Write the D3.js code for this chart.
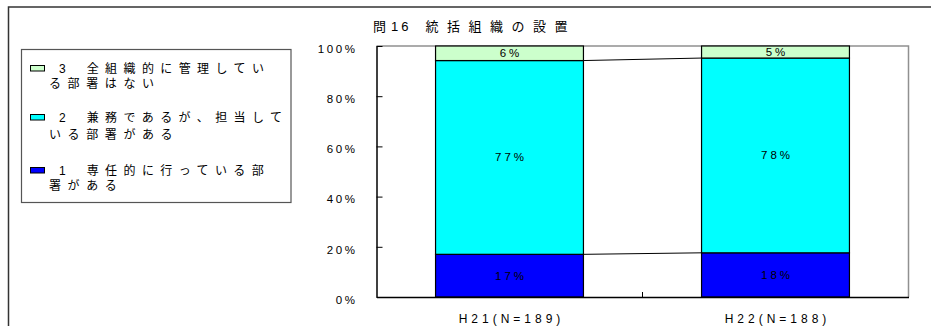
<!DOCTYPE html>
<html><head><meta charset="utf-8">
<script src="https://cdn.jsdelivr.net/npm/d3@7"></script>
<style>
body{margin:0;background:#fff;}
svg{display:block;font-family:Arial,"Liberation Sans","Noto Sans CJK JP",sans-serif;}
</style></head>
<body><svg id="c" width="931" height="326"></svg>
<script>
const categories = ["H21(N=189)", "H22(N=188)"];
const seriesNames = ["1　専任的に行っている部署がある", "2　兼務であるが、担当している部署がある", "3　全組織的に管理している部署はない"];
const legendLines = [["1　専任的に行っている部", "署がある"], ["2　兼務であるが、担当して", "いる部署がある"], ["3　全組織的に管理してい", "る部署はない"]];
const series1 = [17.0, 17.6];   // 専任的に行っている部署がある
const series2 = [77.2, 77.6];   // 兼務であるが、担当している部署がある
const series3 = [5.8, 4.8];     // 全組織的に管理している部署はない
const yTicks = [0, 20, 40, 60, 80, 100];
const colors = ["#0000FF", "#00FFFF", "#CCFFCC"];
const title = ["問", "16", "統括組織の設置"];

const svg = d3.select("#c");
// outer frame
svg.append("rect").attr("x", 8.5).attr("y", 7).attr("width", 940).attr("height", 340)
  .attr("fill", "none").attr("stroke", "#333").attr("stroke-width", 1.5);

const x = d3.scaleBand().domain(categories).range([376.5, 908.5]).paddingInner(0.444).paddingOuter(0.222);
const y = d3.scaleLinear().domain([0, 100]).range([297, 46]);

const stackData = categories.map((c, i) => ({cat: c, s0: series1[i], s1: series2[i], s2: series3[i]}));
const stack = d3.stack().keys(["s0", "s1", "s2"])(stackData);

// plot frame top/right (gray)
svg.append("path").attr("d", `M${x.range()[0]},${y(100)}H${x.range()[1]}V${y(0)}`)
  .attr("fill", "none").attr("stroke", "#909090").attr("stroke-width", 1.5);

// series connecting lines
stack.slice(0, 2).forEach(layer => {
  const a = layer[0], b = layer[1];
  svg.append("line")
    .attr("x1", x(categories[0]) + x.bandwidth()).attr("y1", y(a[1]))
    .attr("x2", x(categories[1])).attr("y2", y(b[1]))
    .attr("stroke", "#000").attr("stroke-width", 1);
});

// bars
stack.forEach((layer, k) => {
  svg.append("g").selectAll("rect").data(layer).join("rect")
    .attr("x", d => x(d.data.cat)).attr("width", x.bandwidth())
    .attr("y", d => y(d[1])).attr("height", d => y(d[0]) - y(d[1]))
    .attr("fill", colors[k]).attr("stroke", "#000").attr("stroke-width", 1.2);
  svg.append("g").selectAll("text").data(layer).join("text")
    .attr("x", d => x(d.data.cat) + x.bandwidth() / 2 + 1.5)
    .attr("y", d => (y(d[0]) + y(d[1])) / 2).attr("dy", "0.35em")
    .attr("text-anchor", "middle").attr("font-size", 11.5).attr("letter-spacing", 3)
    .attr("fill", "#000")
    .text(d => Math.round(d[1] - d[0]) + "%");
});

// y axis
const yAxis = d3.axisLeft(y).tickValues(yTicks).tickSizeInner(-6).tickSizeOuter(0).tickPadding(19).tickFormat(d => d + "%");
const gy = svg.append("g").attr("transform", "translate(376.5,0)").call(yAxis);
gy.select(".domain").attr("stroke", "#000").attr("stroke-width", 1.5);
gy.selectAll(".tick line").attr("stroke", "#000");
gy.selectAll(".tick text").attr("font-size", 11.5).attr("letter-spacing", 2.6).attr("fill", "#000")
  .attr("font-family", "Arial,'Liberation Sans',sans-serif").attr("dy", "0.55em");

// x axis
const gx = svg.append("g").attr("transform", "translate(0,297)")
  .call(d3.axisBottom(x).tickSize(0).tickPadding(17));
gx.select(".domain").attr("stroke", "#000").attr("stroke-width", 1.5);
gx.selectAll(".tick text").attr("font-size", 12).attr("letter-spacing", 4).attr("fill", "#000")
  .attr("font-family", "Arial,'Liberation Sans',sans-serif").attr("dx", "2");
// category boundary ticks (inside)
const bounds = [x.step() + x.range()[0]];
svg.append("g").selectAll("line").data(bounds).join("line")
  .attr("x1", d => d).attr("x2", d => d).attr("y1", 297).attr("y2", 292)
  .attr("stroke", "#000");

// title
const t = svg.append("text").attr("x", 373).attr("y", 31).attr("font-size", 13).attr("fill", "#000");
t.append("tspan").attr("letter-spacing", 5).text(title[0]);
t.append("tspan").attr("letter-spacing", 3).text(title[1]);
t.append("tspan").attr("dx", 14).attr("letter-spacing", 8.5).text(title[2]);

// legend
svg.append("rect").attr("x", 21.5).attr("y", 49.5).attr("width", 269.5).attr("height", 153)
  .attr("fill", "#fff").attr("stroke", "#555").attr("stroke-width", 1.2);
const legendY = [[68, 83], [117, 134], [170, 185]];
const order = [2, 1, 0];
order.forEach((k, i) => {
  const ly = legendY[i];
  svg.append("rect").attr("x", 30.5).attr("y", ly[0] - 2.5).attr("width", 14).attr("height", 5.5)
    .attr("fill", colors[k]).attr("stroke", "#000").attr("stroke-width", 1);
  const lines = legendLines[k];
  const t1 = svg.append("text").attr("x", 59).attr("y", ly[0]).attr("dy", "0.38em")
    .attr("font-size", 12).attr("fill", "#000");
  const parts = lines[0].split("　");
  t1.append("tspan").text(parts[0]);
  t1.append("tspan").attr("dx", 21).attr("letter-spacing", 6.4).text(parts[1]);
  svg.append("text").attr("x", 49).attr("y", ly[1]).attr("dy", "0.38em")
    .attr("font-size", 12).attr("letter-spacing", 6.6).attr("fill", "#000").text(lines[1]);
});
</script></body></html>
